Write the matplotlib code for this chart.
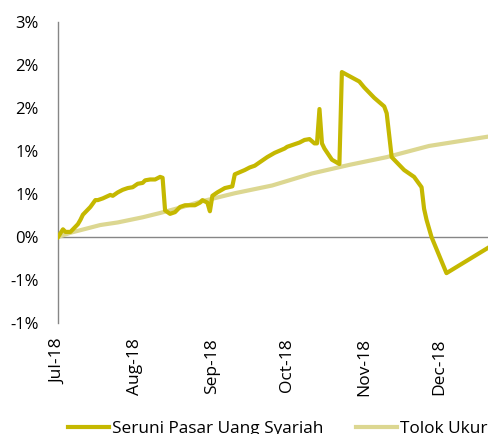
import pandas as pd
import matplotlib
matplotlib.use("Agg")
from matplotlib import pyplot as plt
import matplotlib.dates as mdates

plt.rcParams['font.family'] = ['Open Sans', 'DejaVu Sans']

# Data (return in %)
fund_dates = ['2018-07-01', '2018-07-03', '2018-07-04', '2018-07-06', '2018-07-09',
              '2018-07-10', '2018-07-11', '2018-07-12', '2018-07-14', '2018-07-16',
              '2018-07-17', '2018-07-19', '2018-07-22', '2018-07-23', '2018-07-25',
              '2018-07-27', '2018-07-29', '2018-07-31', '2018-08-02', '2018-08-04',
              '2018-08-05', '2018-08-07', '2018-08-09', '2018-08-11', '2018-08-12',
              '2018-08-13', '2018-08-15', '2018-08-17', '2018-08-19', '2018-08-21',
              '2018-08-25', '2018-08-27', '2018-08-28', '2018-08-30', '2018-08-31',
              '2018-09-01', '2018-09-03', '2018-09-06', '2018-09-09', '2018-09-10',
              '2018-09-14', '2018-09-16', '2018-09-18', '2018-09-23', '2018-09-26',
              '2018-09-30', '2018-10-01', '2018-10-06', '2018-10-08', '2018-10-10',
              '2018-10-12', '2018-10-13', '2018-10-14', '2018-10-15', '2018-10-16',
              '2018-10-19', '2018-10-22', '2018-10-23', '2018-10-30', '2018-11-01',
              '2018-11-05', '2018-11-09', '2018-11-10', '2018-11-12', '2018-11-17',
              '2018-11-21', '2018-11-24', '2018-11-25', '2018-11-26', '2018-11-28',
              '2018-12-04', '2018-12-21']
fund_values = [0.00, 0.09, 0.06, 0.06, 0.15,
               0.20, 0.26, 0.29, 0.35, 0.43,
               0.43, 0.45, 0.49, 0.48, 0.52,
               0.55, 0.57, 0.58, 0.62, 0.63,
               0.66, 0.67, 0.67, 0.70, 0.69,
               0.31, 0.27, 0.29, 0.35, 0.37,
               0.37, 0.40, 0.43, 0.40, 0.30,
               0.48, 0.52, 0.57, 0.59, 0.73,
               0.78, 0.81, 0.83, 0.93, 0.98,
               1.03, 1.05, 1.10, 1.13, 1.14,
               1.09, 1.09, 1.49, 1.09, 1.03,
               0.90, 0.85, 1.92, 1.81, 1.74,
               1.62, 1.52, 1.44, 0.93, 0.78,
               0.70, 0.58, 0.33, 0.20, 0.00,
               -0.42, -0.12]

bench_dates = ['2018-07-01', '2018-07-06', '2018-07-10', '2018-07-18', '2018-07-25',
               '2018-08-04', '2018-08-11', '2018-08-20', '2018-08-27', '2018-09-03',
               '2018-09-10', '2018-09-25', '2018-10-11', '2018-10-26', '2018-11-10',
               '2018-11-27', '2018-12-21']
bench_values = [0.00, 0.05, 0.08, 0.14, 0.17,
                0.23, 0.28, 0.35, 0.41, 0.46,
                0.51, 0.60, 0.74, 0.84, 0.93,
                1.06, 1.17]

y_ticks = [-1.0, -0.5, 0.0, 0.5, 1.0, 1.5, 2.0, 2.5]
y_labels = ['-1%', '-1%', '0%', '1%', '1%', '2%', '2%', '3%']
month_ticks = ['2018-07-01', '2018-08-01', '2018-09-01', '2018-10-01', '2018-11-01', '2018-12-01']

fund_color = '#C5B800'
bench_color = '#DCD791'

fig = plt.figure(figsize=(4.89, 4.34), dpi=100)
ax = fig.add_axes([0.1186, 0.2558, 0.881, 0.693])

ax.axhline(0, color='#868686', lw=1, zorder=1)
ax.plot(pd.to_datetime(bench_dates), bench_values, color=bench_color, lw=3,
        label='Tolok Ukur', zorder=2)
ax.plot(pd.to_datetime(fund_dates), fund_values, color=fund_color, lw=3,
        label='Seruni Pasar Uang Syariah', zorder=3)

ax.set_xlim(pd.Timestamp(fund_dates[0]), pd.Timestamp(fund_dates[-1]))
ax.set_ylim(-1.0, 2.5)

ax.set_yticks(y_ticks)
ax.set_yticklabels(y_labels, fontsize=12)
ax.set_xticks(pd.to_datetime(month_ticks))
ax.xaxis.set_major_formatter(mdates.DateFormatter('%b-%y'))
ax.tick_params(axis='x', labelrotation=90, labelsize=12.5, length=0, pad=11)
ax.tick_params(axis='y', length=0, pad=14)
for lbl in ax.get_xticklabels():
    lbl.set_va('top')

for side in ['top', 'right', 'bottom']:
    ax.spines[side].set_visible(False)
ax.spines['left'].set_color('#868686')
ax.spines['left'].set_linewidth(1)

handles, labels = ax.get_legend_handles_labels()
fig.legend(handles[::-1], labels[::-1], loc='center', ncol=2,
           bbox_to_anchor=(0.568, 0.012), frameon=False, fontsize=12.4,
           handlelength=2.35, handletextpad=0.18, columnspacing=1.9)

fig.savefig('out.png', dpi=100)
